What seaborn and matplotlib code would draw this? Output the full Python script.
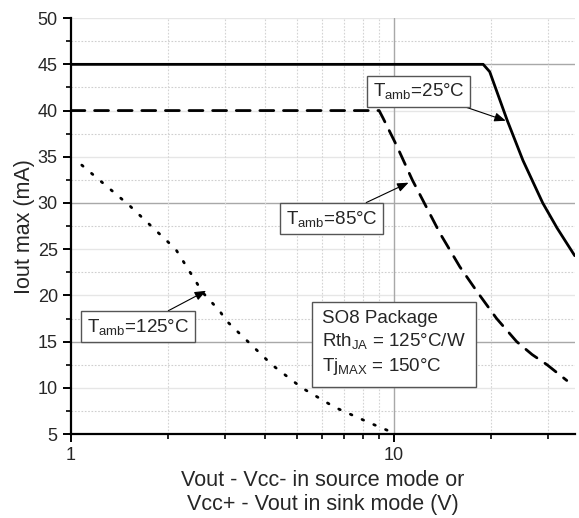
import matplotlib
matplotlib.use("Agg")
import matplotlib.pyplot as plt
import matplotlib.ticker as mticker
import numpy as np
import pandas as pd
import seaborn as sns

# values
v_25 = [1.0, 18.9, 19.8, 22.4, 25.1, 28.9, 32.0, 36.3]
i_25 = [45.0, 45.0, 44.2, 39.0, 34.6, 30.0, 27.3, 24.3]

v_85 = [1.0, 9.0, 9.25, 10.2, 11.4, 13.9, 16.0, 18.1, 20.8, 24.0, 26.8, 29.8, 34.3]
i_85 = [40.0, 40.0, 39.2, 36.2, 32.5, 26.7, 23.1, 20.4, 17.5, 15.0, 13.6, 12.5, 10.8]

v_125 = [1.08, 1.52, 2.11, 2.56, 2.89, 3.02, 4.19, 5.19, 6.56, 8.43, 9.86]
i_125 = [34.1, 29.7, 25.0, 20.3, 18.3, 17.3, 12.5, 10.0, 7.9, 6.2, 5.2]

series = [
    ("25", v_25, i_25, "-"),
    ("85", v_85, i_85, (0, (5, 3.5))),
    ("125", v_125, i_125, (0, (0.6, 4))),
]

sns.set_style("white")
plt.rcParams["font.family"] = ["Liberation Sans", "DejaVu Sans"]
plt.rcParams["mathtext.fontset"] = "custom"
plt.rcParams["mathtext.rm"] = "Liberation Sans"
plt.rcParams["mathtext.it"] = "Liberation Sans"

fig = plt.figure(figsize=(5.79, 5.18), dpi=100)
ax = fig.add_axes([0.1226, 0.162, 0.870, 0.803])

ax.set_xscale("log")
ax.set_xlim(1, 36.3)
ax.set_ylim(5, 50)

# grid
for y in np.arange(5, 51, 5):
    c = "#a8a8a8" if y % 15 == 0 else "#e6e6e6"
    ax.axhline(y, color=c, lw=1.0, zorder=0)
for y in np.arange(7.5, 50, 5):
    ax.axhline(y, color="#cfcfcf", lw=0.8, ls=(0, (1.5, 1.5)), zorder=0)
ax.axvline(10, color="#a8a8a8", lw=1.0, zorder=0)
for x in [2, 3, 4, 5, 6, 7, 8, 9, 20, 30]:
    ax.axvline(x, color="#d4d4d4", lw=0.8, ls=(0, (1.5, 1.5)), zorder=0)

for name, v, i, ls in series:
    df = pd.DataFrame({"v": v, "i": i})
    sns.lineplot(data=df, x="v", y="i", ax=ax, color="black", lw=2.0,
                 linestyle=ls, sort=False, estimator=None, zorder=3,
                 dash_capstyle="round")

box = dict(boxstyle="square,pad=0.3", fc="white", ec="#555555", lw=1.0)
arrow = dict(arrowstyle="-|>,head_length=0.5,head_width=0.2", color="black",
             lw=0.8, shrinkA=0, shrinkB=0)

ax.annotate(r"T$_{\mathrm{amb}}$=25°C", xy=(22.2, 38.9), xytext=(11.95, 42.1),
            ha="center", va="center", fontsize=13.5, bbox=box, arrowprops=arrow, zorder=5)
ax.annotate(r"T$_{\mathrm{amb}}$=85°C", xy=(11.1, 32.2), xytext=(6.43, 28.3),
            ha="center", va="center", fontsize=13.5, bbox=box, arrowprops=arrow, zorder=5)
ax.annotate(r"T$_{\mathrm{amb}}$=125°C", xy=(2.62, 20.5), xytext=(1.61, 16.6),
            ha="center", va="center", fontsize=13.5, bbox=box, arrowprops=arrow, zorder=5)

ax.text(10.0, 14.8, "SO8 Package\nRth$_{\\mathrm{JA}}$ = 125°C/W\nTj$_{\\mathrm{MAX}}$ = 150°C",
        ha="center", va="center", fontsize=13.5, linespacing=1.3, multialignment="left",
        bbox=dict(boxstyle="square,pad=0.55", fc="white", ec="#555555", lw=1.0), zorder=5)

# axes & ticks
sns.despine(ax=ax)
for s in ["left", "bottom"]:
    ax.spines[s].set_linewidth(1.6)
    ax.spines[s].set_color("black")

ax.xaxis.set_major_locator(mticker.FixedLocator([1, 10]))
ax.xaxis.set_major_formatter(mticker.FixedFormatter(["1", "10"]))
ax.xaxis.set_minor_locator(mticker.FixedLocator([2, 3, 4, 5, 6, 7, 8, 9, 20, 30]))
ax.xaxis.set_minor_formatter(mticker.NullFormatter())
ax.yaxis.set_major_locator(mticker.MultipleLocator(5))
ax.yaxis.set_minor_locator(mticker.MultipleLocator(2.5))

ax.tick_params(which="major", direction="out", length=6, width=1.4, labelsize=13,
               bottom=True, left=True, color="black")
ax.tick_params(which="minor", direction="out", length=3.5, width=1.2,
               bottom=True, left=True, color="black")

ax.set_xlabel("Vout - Vcc- in source mode or\nVcc+ - Vout in sink mode (V)",
              fontsize=15.5, labelpad=4, linespacing=1.2)
ax.set_ylabel("Iout max (mA)", fontsize=15.5, labelpad=2)

fig.savefig("out.png", dpi=100)
